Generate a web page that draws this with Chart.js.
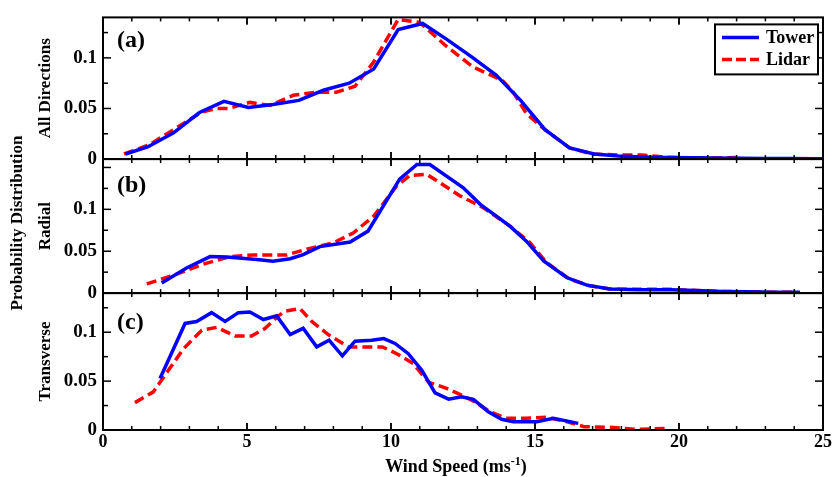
<!DOCTYPE html>
<html>
<head>
<meta charset="utf-8">
<script src="https://cdn.jsdelivr.net/npm/chart.js@4/dist/chart.umd.min.js"></script>
<style>
  html, body { margin: 0; padding: 0; background: #fff; }
  #wrap { width: 834px; height: 477px; }
</style>
</head>
<body>
<div id="wrap"><canvas id="pdfChart" width="834" height="477"></canvas></div>
<script>
// wind speed bins (m/s) and probability values
const towerAllX = [0.78, 1.55, 2.45, 3.35, 4.2, 5.05, 5.9, 6.8, 7.65, 8.55, 9.4, 10.25, 11.1, 11.95, 12.8, 13.65, 14.5, 15.35, 16.2, 17.05, 17.9, 18.75, 19.6, 20.45, 21.3, 22.15, 23.0, 23.85, 24.7, 25];
const towerAllY = [0.005, 0.012, 0.026, 0.046, 0.057, 0.051, 0.054, 0.058, 0.068, 0.075, 0.089, 0.128, 0.134, 0.118, 0.101, 0.083, 0.058, 0.029, 0.011, 0.005, 0.003, 0.002, 0.0015, 0.0012, 0.001, 0.0008, 0.0006, 0.0005, 0.0004, 0.0004];
const lidarAllX = [0.73, 1.6, 2.5, 3.4, 3.9, 4.35, 5.1, 5.8, 6.6, 7.4, 8.1, 8.75, 9.4, 10.25, 11.0, 11.9, 12.85, 13.85, 14.25, 14.7, 15.3, 16.2, 17.0, 17.9, 18.7, 19.5, 20.3, 21.2, 22.05];
const lidarAllY = [0.005, 0.014, 0.030, 0.046, 0.050, 0.050, 0.056, 0.053, 0.063, 0.066, 0.066, 0.072, 0.096, 0.138, 0.135, 0.112, 0.091, 0.078, 0.066, 0.045, 0.030, 0.011, 0.005, 0.004, 0.004, 0.002, 0.001, 0.001, 0.0015];

const towerRadX = [2.04, 2.9, 3.72, 4.3, 5.34, 5.9, 6.5, 6.95, 7.53, 8.58, 9.2, 10.3, 10.9, 11.35, 12.5, 13.1, 14.13, 14.7, 15.3, 16.1, 16.8, 17.6, 18.6, 19.7, 20.6, 21.5, 22.4, 23.3, 24.2];
const towerRadY = [0.012, 0.030, 0.0436, 0.043, 0.040, 0.038, 0.041, 0.046, 0.0555, 0.061, 0.074, 0.136, 0.1535, 0.1535, 0.126, 0.106, 0.080, 0.062, 0.0385, 0.0186, 0.0095, 0.0048, 0.004, 0.004, 0.003, 0.002, 0.0015, 0.001, 0.001];
const lidarRadX = [1.52, 2.56, 3.48, 4.4, 5.22, 6.38, 7.07, 8.0, 8.7, 9.4, 10.2, 10.66, 11.24, 11.7, 12.4, 13.2, 14.13, 14.83, 15.4, 16.2, 16.9, 17.6, 18.6, 19.7, 20.6, 21.5, 22.4, 23.2, 24.0];
const lidarRadY = [0.011, 0.0226, 0.0345, 0.0436, 0.0456, 0.0456, 0.0524, 0.060, 0.072, 0.092, 0.128, 0.1405, 0.1417, 0.1317, 0.116, 0.102, 0.080, 0.060, 0.0364, 0.0167, 0.0087, 0.0048, 0.0045, 0.0045, 0.003, 0.002, 0.0015, 0.001, 0.001];

const towerTrX = [1.98, 2.85, 3.25, 3.77, 4.24, 4.7, 5.1, 5.57, 6.03, 6.5, 6.95, 7.42, 7.85, 8.31, 8.75, 9.33, 9.75, 10.14, 10.6, 11.07, 11.53, 12.0, 12.45, 12.86, 13.38, 13.84, 14.25, 15.06, 15.64, 16.5];
const towerTrY = [0.0527, 0.109, 0.111, 0.120, 0.111, 0.120, 0.1207, 0.113, 0.1167, 0.0976, 0.104, 0.085, 0.0918, 0.0758, 0.0908, 0.0918, 0.0935, 0.0885, 0.078, 0.061, 0.038, 0.0316, 0.034, 0.0313, 0.0187, 0.0109, 0.0085, 0.0085, 0.012, 0.0068];
const lidarTrX = [1.11, 1.75, 2.27, 2.79, 3.43, 3.95, 4.58, 5.16, 5.62, 6.09, 6.32, 6.84, 7.25, 7.82, 8.52, 9.1, 9.7, 10.2, 10.77, 11.3, 11.93, 12.45, 12.9, 13.44, 14.0, 14.7, 15.4, 15.98, 16.7, 17.6, 18.5, 19.5];
const lidarTrY = [0.028, 0.039, 0.061, 0.083, 0.102, 0.105, 0.0962, 0.0962, 0.1037, 0.1167, 0.1214, 0.1241, 0.111, 0.0976, 0.085, 0.085, 0.085, 0.078, 0.068, 0.049, 0.0425, 0.0357, 0.029, 0.0187, 0.012, 0.012, 0.013, 0.0095, 0.0034, 0.0027, 0.0007, 0.0015];

// axes
const xTickLabels = [0, 5, 10, 15, 20, 25];
const xMinorTicks = [];
for (let v = 1; v < 25; v++) xMinorTicks.push(v);
const yTickLabels = [0, 0.05, 0.1];
const panelTags = ['(a)', '(b)', '(c)'];
const panelTitles = ['All Directions', 'Radial', 'Transverse'];
const panelMax = [0.14, 0.16, 0.14];
const seriesNames = ['Tower', 'Lidar'];

const SERIF = "'Liberation Serif', 'Times New Roman', serif";
const BLUE = '#0000ff';
const RED = '#ff0000';

function pts(xs, ys) {
    return xs.map((x, i) => ({ x: x, y: ys[i] }));
}

function towerSet(xs, ys, axis) {
    return { label: seriesNames[0], data: pts(xs, ys), yAxisID: axis, borderColor: BLUE, borderWidth: 3.5, pointRadius: 0, fill: false, tension: 0 };
}
function lidarSet(xs, ys, axis) {
    return { label: seriesNames[1], data: pts(xs, ys), yAxisID: axis, borderColor: RED, borderWidth: 3.5, borderDash: [10, 5], pointRadius: 0, fill: false, tension: 0 };
}

const panelIds = ['ya', 'yb', 'yc'];
const panelWeights = [142.5, 134.8, 137.7];

function yScale(i) {
    return {
        type: 'linear',
        position: 'left',
        stack: 'panels',
        stackWeight: panelWeights[i],
        weight: 3 - i,
        min: 0,
        max: panelMax[i],
        afterBuildTicks: s => { s.ticks = yTickLabels.map(v => ({ value: v })); },
        afterFit: s => { s.width = 103; },
        ticks: {
            color: '#000',
            padding: 6,
            font: { family: SERIF, size: 19, weight: 'bold' },
            callback: v => (v === 0 ? '0' : String(v))
        },
        grid: { display: false, drawTicks: false },
        border: { display: false }
    };
}

// frames, inward ticks, titles, legend
const decorPlugin = {
    id: 'decor',
    afterDraw(chart) {
        const ctx = chart.ctx;
        const { left, right } = chart.chartArea;
        const xs = chart.scales.x;
        ctx.save();
        ctx.strokeStyle = '#000';
        ctx.fillStyle = '#000';
        ctx.lineWidth = 2;

        const seg = (x1, y1, x2, y2) => { ctx.beginPath(); ctx.moveTo(x1, y1); ctx.lineTo(x2, y2); ctx.stroke(); };

        panelIds.forEach((id, i) => {
            const s = chart.scales[id];
            ctx.lineWidth = 2;
            ctx.strokeRect(left, s.top, right - left, s.bottom - s.top);

            ctx.lineWidth = 1.5;
            xMinorTicks.concat(xTickLabels).forEach(v => {
                const px = xs.getPixelForValue(v);
                const len = v % 5 === 0 ? 7 : 4;
                seg(px, s.top, px, s.top + len);
                seg(px, s.bottom, px, s.bottom - len);
            });
            for (let v = 0.025; v < panelMax[i] - 0.001; v += 0.025) {
                const py = s.getPixelForValue(v);
                const major = Math.abs(v / 0.05 - Math.round(v / 0.05)) < 0.01;
                const len = major ? 8 : 5;
                seg(left, py, left + len, py);
                seg(right, py, right - len, py);
            }

            // panel tag
            ctx.font = 'bold 24px ' + SERIF;
            ctx.textAlign = 'left';
            ctx.textBaseline = 'middle';
            ctx.fillText(panelTags[i], left + 14, s.top + [23, 27, 30][i]);

            // panel y title
            ctx.save();
            ctx.translate(46, (s.top + s.bottom) / 2);
            ctx.rotate(-Math.PI / 2);
            ctx.font = 'bold 17px ' + SERIF;
            ctx.textAlign = 'center';
            ctx.fillText(panelTitles[i], 0, 0);
            ctx.restore();
        });

        // shared y title
        ctx.save();
        ctx.translate(18, 223);
        ctx.rotate(-Math.PI / 2);
        ctx.font = 'bold 17px ' + SERIF;
        ctx.textAlign = 'center';
        ctx.textBaseline = 'middle';
        ctx.fillText('Probability Distribution', 0, 0);
        ctx.restore();

        // x title with superscript
        ctx.textBaseline = 'alphabetic';
        ctx.textAlign = 'left';
        const mainFont = 'bold 18px ' + SERIF;
        const supFont = 'bold 12px ' + SERIF;
        ctx.font = mainFont;
        const w1 = ctx.measureText('Wind Speed (ms').width;
        const w3 = ctx.measureText(')').width;
        ctx.font = supFont;
        const w2 = ctx.measureText('-1').width;
        let tx = 456 - (w1 + w2 + w3) / 2;
        const base = 472;
        ctx.font = mainFont;
        ctx.fillText('Wind Speed (ms', tx, base);
        tx += w1;
        ctx.font = supFont;
        ctx.fillText('-1', tx, base - 7);
        tx += w2;
        ctx.font = mainFont;
        ctx.fillText(')', tx, base);

        // legend
        const bx = right - 108, by = chart.scales.ya.top + 7, bw = 103, bh = 50;
        ctx.fillStyle = '#fff';
        ctx.fillRect(bx, by, bw, bh);
        ctx.lineWidth = 2;
        ctx.strokeStyle = '#000';
        ctx.strokeRect(bx, by, bw, bh);
        const rows = [{ c: BLUE, dash: [] }, { c: RED, dash: [10, 4] }];
        rows.forEach((r, k) => {
            const ly = by + 13 + k * 22;
            ctx.strokeStyle = r.c;
            ctx.lineWidth = 3.5;
            ctx.setLineDash(r.dash);
            seg(bx + 7, ly, bx + 44, ly);
            ctx.setLineDash([]);
            ctx.fillStyle = '#000';
            ctx.font = 'bold 18px ' + SERIF;
            ctx.textBaseline = 'middle';
            ctx.fillText(seriesNames[k], bx + 51, ly + 1);
        });
        ctx.restore();
    }
};

const ctx = document.getElementById('pdfChart').getContext('2d');
new Chart(ctx, {
    type: 'line',
    data: {
        datasets: [
            towerSet(towerAllX, towerAllY, 'ya'),
            lidarSet(lidarAllX, lidarAllY, 'ya'),
            towerSet(towerRadX, towerRadY, 'yb'),
            lidarSet(lidarRadX, lidarRadY, 'yb'),
            towerSet(towerTrX, towerTrY, 'yc'),
            lidarSet(lidarTrX, lidarTrY, 'yc')
        ]
    },
    options: {
        responsive: false,
        animation: false,
        layout: { padding: { top: 15, right: 11, left: 0, bottom: 0 } },
        plugins: { legend: { display: false }, tooltip: { enabled: false } },
        scales: {
            x: {
                type: 'linear',
                min: 0,
                max: 25,
                afterBuildTicks: s => { s.ticks = xTickLabels.map(v => ({ value: v })); },
                afterFit: s => { s.height = 47; },
                ticks: { color: '#000', padding: 2, maxRotation: 0, font: { family: SERIF, size: 18, weight: 'bold' } },
                grid: { display: false, drawTicks: false },
                border: { display: false }
            },
            ya: yScale(0),
            yb: yScale(1),
            yc: yScale(2)
        }
    },
    plugins: [decorPlugin]
});
</script>
</body>
</html>
